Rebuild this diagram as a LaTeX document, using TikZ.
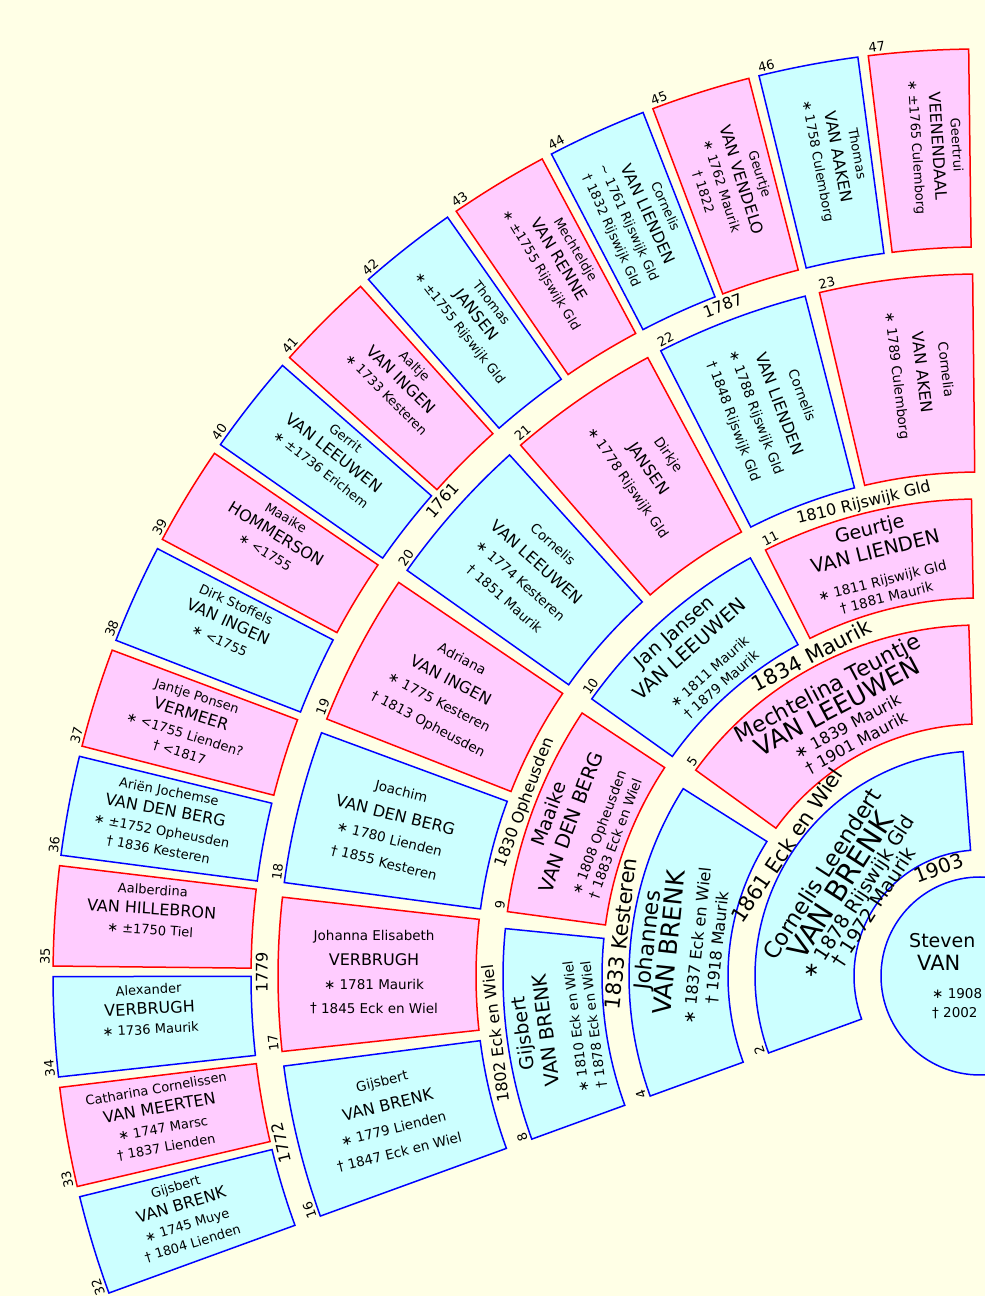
\documentclass[tikz,border=0pt]{standalone}
\usepackage{fontspec}
\setmainfont{DejaVu Sans}
\usetikzlibrary{calc}
\definecolor{paper}{RGB}{255,255,230}
\definecolor{boyfill}{RGB}{204,255,255}
\definecolor{girlfill}{RGB}{255,204,255}
% ring data, one entry per generation
\newcommand{\gaps}{{8.6,3.65,2.05,1.2,0.65}}
\newcommand{\starts}{{4.3,1.825,1.025,0.6,0.7}}
\newcommand{\rins}{{126,252,378,504,729}}
\newcommand{\routs}{{225,351,477,702,927}}
% baseline offsets of the four lines
\newcommand{\offa}{{4.5,25.4,26.4,34.4,27.4}}
\newcommand{\offb}{{-19.5,2.4,2.9,9.4,7.4}}
\newcommand{\offc}{{-37.5,-22.6,-25.1,-14.6,-12.6}}
\newcommand{\offd}{{-55.5,-42.6,-42.6,-38.6,-31.6}}
\tikzset{
  boy/.style={fill=boyfill, draw=blue, line width=1.5pt},
  girl/.style={fill=girlfill, draw=red, line width=1.5pt},
  txt/.style={inner sep=0pt, text height=0.72em, text depth=0.2em},
  row/.style={inner sep=0pt, anchor=base},
  first1/.style={row, font=\fontsize{22.5}{27}\selectfont},
  last1/.style={row, font=\fontsize{29}{35}\selectfont},
  date1/.style={row, font=\fontsize{19.5}{23}\selectfont},
  first2/.style={row, font=\fontsize{22}{26}\selectfont},
  last2/.style={row, font=\fontsize{25}{30}\selectfont},
  date2/.style={row, font=\fontsize{16}{19}\selectfont},
  first3/.style={row, font=\fontsize{19}{23}\selectfont},
  last3/.style={row, font=\fontsize{19.5}{23}\selectfont},
  date3/.style={row, font=\fontsize{13.5}{16}\selectfont},
  first4/.style={row, font=\fontsize{13.5}{16}\selectfont},
  last4/.style={row, font=\fontsize{16}{19}\selectfont},
  date4/.style={row, font=\fontsize{13.5}{16}\selectfont},
  first5/.style={row, font=\fontsize{13}{15}\selectfont},
  last5/.style={row, font=\fontsize{16}{19}\selectfont},
  date5/.style={row, font=\fontsize{13}{15}\selectfont},
  sosa/.style={inner sep=1pt, font=\fontsize{13}{15}\selectfont},
  wedA/.style={txt, font=\fontsize{21}{25}\selectfont},
  wedB/.style={txt, font=\fontsize{16}{19}\selectfont},
}
% angles of the box of sosa #2 in generation #1
\newcommand{\fanangles}[2]{%
  \pgfmathsetmacro{\fanN}{2^(#1-1)}%
  \pgfmathsetmacro{\fanG}{\gaps[#1-1]}%
  \pgfmathsetmacro{\fanS}{\starts[#1-1]}%
  \pgfmathsetmacro{\fanRi}{\rins[#1-1]}%
  \pgfmathsetmacro{\fanRo}{\routs[#1-1]}%
  \pgfmathsetmacro{\fanW}{(110-\fanS-(\fanN-1)*\fanG)/\fanN}%
  \pgfmathsetmacro{\fanIdx}{2^#1+\fanN-1-#2}%
  \pgfmathsetmacro{\fanA}{90+\fanS+\fanIdx*(\fanW+\fanG)}%
  \pgfmathsetmacro{\fanB}{\fanA+\fanW}%
  \pgfmathsetmacro{\fanM}{(\fanA+\fanB)/2}%
  \pgfmathsetmacro{\fanRmid}{(\fanRi+\fanRo)/2}%
}
% [line offsets], style, generation, sosa, first name, surname, birth, death
\newcommand{\person}[8][]{%
  \fanangles{#3}{#4}%
  \filldraw[#2, shift={(C)}] (\fanA:\fanRi) -- (\fanA:\fanRo) arc[start angle=\fanA, end angle=\fanB, radius=\fanRo]
    -- (\fanB:\fanRi) arc[start angle=\fanB, end angle=\fanA, radius=\fanRi] -- cycle;
  \pgfmathsetmacro{\fanUp}{#3<4 ? \fanM : \fanM-90}%
  \pgfmathsetmacro{\fanRot}{\fanUp-90}%
  \pgfmathsetmacro{\fanRc}{#3<4 ? \fanRmid : \fanRmid+3}%
  \if\relax\detokenize{#1}\relax
    \pgfmathsetmacro{\fanOa}{\offa[#3-1]}%
    \pgfmathsetmacro{\fanOb}{\offb[#3-1]}%
    \pgfmathsetmacro{\fanOc}{\offc[#3-1]}%
    \pgfmathsetmacro{\fanOd}{\offd[#3-1]}%
  \else
    \pgfmathsetmacro{\fanOa}{{#1}[0]}%
    \pgfmathsetmacro{\fanOb}{{#1}[1]}%
    \pgfmathsetmacro{\fanOc}{{#1}[2]}%
    \pgfmathsetmacro{\fanOd}{{#1}[3]}%
  \fi
  \pgfmathsetmacro{\fanRn}{\fanRo+2}%
  \pgfmathsetmacro{\fanRotn}{\fanB-90}%
  \node[first#3, rotate=\fanRot] (p#4a) at ($(C)+(\fanM:\fanRc)+(\fanUp:\fanOa)$) {#5};
  \node[last#3, rotate=\fanRot] (p#4b) at ($(C)+(\fanM:\fanRc)+(\fanUp:\fanOb)$) {#6};
  \node[date#3, rotate=\fanRot] (p#4c) at ($(C)+(\fanM:\fanRc)+(\fanUp:\fanOc)$) {#7};
  \if\relax\detokenize{#8}\relax\else
  \node[date#3, rotate=\fanRot] (p#4d) at ($(C)+(\fanM:\fanRc)+(\fanUp:\fanOd)$) {#8};
  \fi
  \node[sosa, anchor=south west, rotate=\fanRotn] (n#4) at ($(C)+(\fanB:\fanRn)$) {#4};
}
% name, generation, sosa of husband, radius, style, text
\newcommand{\wedding}[6]{%
  \fanangles{#2}{#3}%
  \pgfmathsetmacro{\fanT}{\fanA-\fanG/2}%
  \pgfmathsetmacro{\fanRot}{\fanT-90}%
  \node[#5, rotate=\fanRot] (#1) at ($(C)+(\fanT:#4)$) {#6};
}

\begin{document}
\begin{tikzpicture}[x=1pt, y=1pt]
\useasboundingbox (0,0) rectangle (985,1296);
\fill[paper] (0,0) rectangle (985,1296);
\clip (0,0) rectangle (985,1296);
\coordinate (C) at (980,320);
%1
\filldraw[boy] (C) circle[radius=99];
\node[txt, anchor=west, font=\fontsize{19}{23}\selectfont] (s1) at ($(C)+(-71,31)$) {Steven};
\node[txt, anchor=west, font=\fontsize{21}{25}\selectfont] (s2) at ($(C)+(-63,8)$) {VAN};
\node[txt, anchor=west, font=\fontsize{13.5}{16}\selectfont] (s3) at ($(C)+(-48,-20)$) {∗ 1908};
\node[txt, anchor=west, font=\fontsize{13.5}{16}\selectfont] (s4) at ($(C)+(-48,-39)$) {† 2002};
%2
\person{boy}{1}{2}{Cornelis Leendert}{VAN BRENK}{∗ 1878 Rijswijk Gld}{† 1972 Maurik}
%4-5
\person{boy}{2}{4}{Johannes}{VAN BRENK}{∗ 1837 Eck en Wiel}{† 1918 Maurik}
\person[{17,-5.5,-24.5,-43}]{girl}{2}{5}{Mechtelina Teuntje}{VAN LEEUWEN}{∗ 1839 Maurik}{† 1901 Maurik}
%8-11
\person{boy}{3}{8}{Gijsbert}{VAN BRENK}{∗ 1810 Eck en Wiel}{† 1878 Eck en Wiel}
\person{girl}{3}{9}{Maaike}{VAN DEN BERG}{∗ 1808 Opheusden}{† 1883 Eck en Wiel}
\person{boy}{3}{10}{Jan Jansen}{VAN LEEUWEN}{∗ 1811 Maurik}{† 1879 Maurik}
\person{girl}{3}{11}{Geurtje}{VAN LIENDEN}{∗ 1811 Rijswijk Gld}{† 1881 Maurik}
%16-23
\person{boy}{4}{16}{Gijsbert}{VAN BRENK}{∗ 1779 Lienden}{† 1847 Eck en Wiel}
\person{girl}{4}{17}{Johanna Elisabeth}{VERBRUGH}{∗ 1781 Maurik}{† 1845 Eck en Wiel}
\person{boy}{4}{18}{Joachim}{VAN DEN BERG}{∗ 1780 Lienden}{† 1855 Kesteren}
\person{girl}{4}{19}{Adriana}{VAN INGEN}{∗ 1775 Kesteren}{† 1813 Opheusden}
\person{boy}{4}{20}{Cornelis}{VAN LEEUWEN}{∗ 1774 Kesteren}{† 1851 Maurik}
\person{girl}{4}{21}{Dirkje}{JANSEN}{∗ 1778 Rijswijk Gld}{}
\person{boy}{4}{22}{Cornelis}{VAN LIENDEN}{∗ 1788 Rijswijk Gld}{† 1848 Rijswijk Gld}
\person{girl}{4}{23}{Cornelia}{VAN AKEN}{∗ 1789 Culemborg}{}
%32-47
\person{boy}{5}{32}{Gijsbert}{VAN BRENK}{∗ 1745 Muye}{† 1804 Lienden}
\person{girl}{5}{33}{Catharina Cornelissen}{VAN MEERTEN}{∗ 1747 Marsc}{† 1837 Lienden}
\person{boy}{5}{34}{Alexander}{VERBRUGH}{∗ 1736 Maurik}{}
\person{girl}{5}{35}{Aalberdina}{VAN HILLEBRON}{∗ ±1750 Tiel}{}
\person{boy}{5}{36}{Ariën Jochemse}{VAN DEN BERG}{∗ ±1752 Opheusden}{† 1836 Kesteren}
\person{girl}{5}{37}{Jantje Ponsen}{VERMEER}{∗ <1755 Lienden?}{† <1817}
\person{boy}{5}{38}{Dirk Stoffels}{VAN INGEN}{∗ <1755}{}
\person{girl}{5}{39}{Maaike}{HOMMERSON}{∗ <1755}{}
\person{boy}{5}{40}{Gerrit}{VAN LEEUWEN}{∗ ±1736 Erichem}{}
\person{girl}{5}{41}{Aaltje}{VAN INGEN}{∗ 1733 Kesteren}{}
\person{boy}{5}{42}{Thomas}{JANSEN}{∗ ±1755 Rijswijk Gld}{}
\person{girl}{5}{43}{Mechteldje}{VAN RENNE}{∗ ±1755 Rijswijk Gld}{}
\person{boy}{5}{44}{Cornelis}{VAN LIENDEN}{\textasciitilde{} 1761 Rijswijk Gld}{† 1832 Rijswijk Gld}
\person{girl}{5}{45}{Geurtje}{VAN VENDELO}{∗ 1762 Maurik}{† 1822}
\person{boy}{5}{46}{Thomas}{VAN AAKEN}{∗ 1758 Culemborg}{}
\person{girl}{5}{47}{Geertrui}{VEENENDAAL}{∗ ±1765 Culemborg}{}
%weddings
\node[txt, font=\fontsize{20}{24}\selectfont, rotate=21] (m1) at ($(C)+(111:111)$) {1903};
\wedding{m2}{2}{4}{228}{wedA}{1861 Eck en Wiel}
\wedding{m4}{3}{8}{357}{wedA}{1833 Kesteren}
\wedding{m5}{3}{10}{357}{wedA}{1834 Maurik}
\wedding{m8}{4}{16}{485}{wedB}{1802 Eck en Wiel}
\wedding{m9}{4}{18}{485}{wedB}{1830 Opheusden}
\wedding{m11}{4}{22}{485}{wedB}{1810 Rijswijk Gld}
\wedding{m16}{5}{32}{715}{wedB}{1772}
\wedding{m17}{5}{34}{715}{wedB}{1779}
\wedding{m20}{5}{40}{715}{wedB}{1761}
\wedding{m22}{5}{44}{715}{wedB}{1787}
\end{tikzpicture}
\end{document}
